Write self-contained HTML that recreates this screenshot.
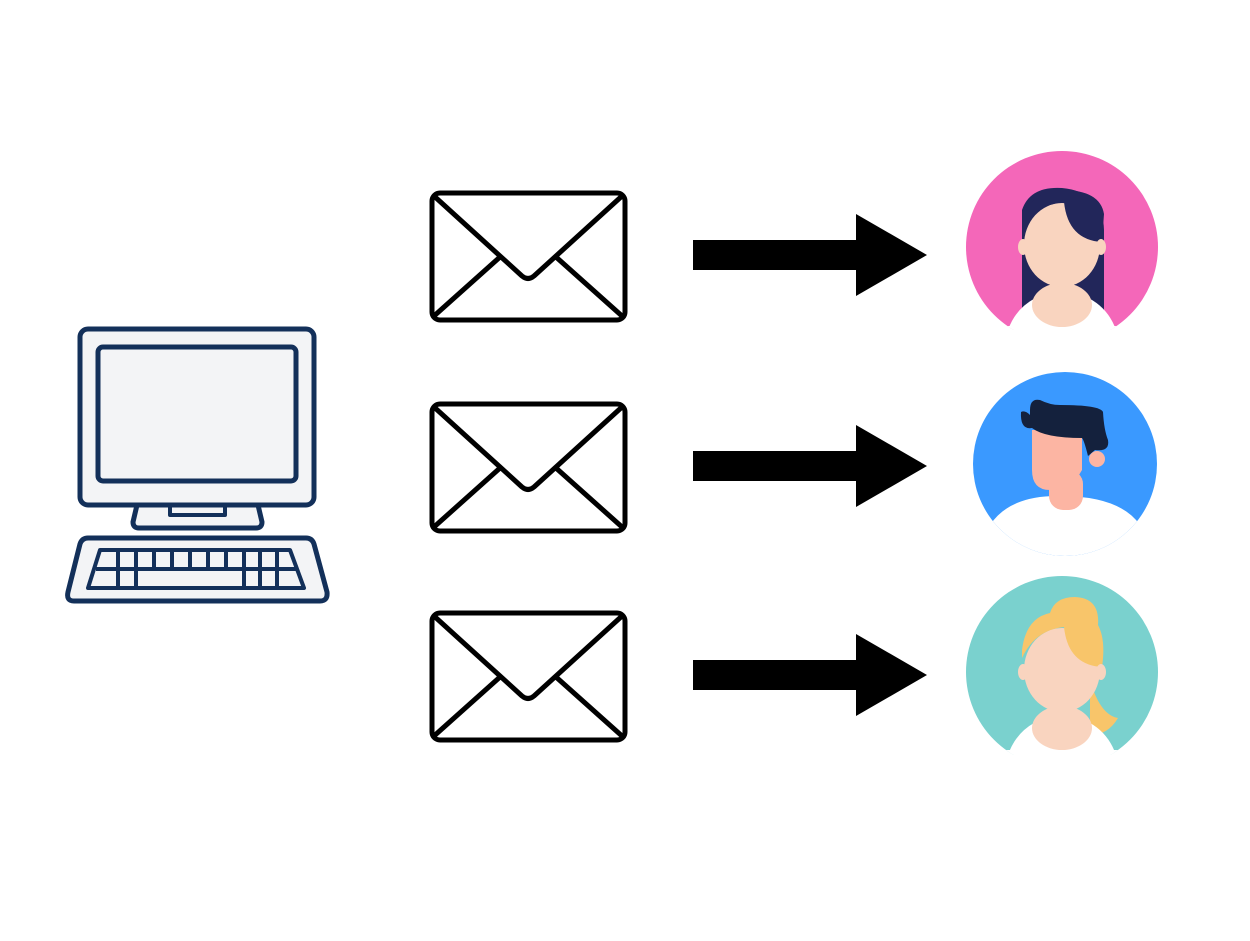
<!DOCTYPE html>
<html><head><style>html,body{margin:0;padding:0;background:#fff}</style></head>
<body>
<svg width="1250" height="936" viewBox="0 0 1250 936" xmlns="http://www.w3.org/2000/svg">
<defs>
<clipPath id="c1"><circle cx="1062" cy="247" r="96"/></clipPath>
<clipPath id="c2"><circle cx="1065" cy="464" r="92"/></clipPath>
<clipPath id="c3"><circle cx="1062" cy="672" r="96"/></clipPath>
</defs>
<!-- computer -->
<g stroke="#13305a" stroke-width="5" fill="#f3f4f6" stroke-linejoin="round">
<rect x="80" y="329" width="234" height="176" rx="8"/>
<rect x="98" y="347" width="198" height="134" rx="5"/>
<path d="M137 505 L258 505 L262 522 Q262 528 256 528 L139 528 Q133 528 133 522 Z"/>
<rect x="170" y="505" width="55" height="10" fill="none" stroke-width="4"/>
<path d="M88 538 L306 538 Q312 538 314 544 L327 592 Q328 601 320 601 L74 601 Q66 601 68 592 L80 544 Q82 538 88 538 Z"/>
<path d="M100 550 L290 550 L304 588 L88 588 Z" stroke-width="4"/>
</g>
<g stroke="#13305a" stroke-width="4">
<line x1="96" y1="569" x2="296" y2="569"/>
<line x1="118" y1="550" x2="118" y2="588"/><line x1="136" y1="550" x2="136" y2="588"/>
<line x1="154" y1="550" x2="154" y2="569"/><line x1="172" y1="550" x2="172" y2="569"/>
<line x1="190" y1="550" x2="190" y2="569"/><line x1="208" y1="550" x2="208" y2="569"/>
<line x1="226" y1="550" x2="226" y2="569"/><line x1="244" y1="550" x2="244" y2="588"/>
<line x1="260" y1="550" x2="260" y2="588"/><line x1="277" y1="550" x2="277" y2="588"/>
</g>
<!-- envelopes -->
<g fill="none" stroke="#000" stroke-width="5" stroke-linejoin="round">
<g id="env">
<rect x="432" y="193" width="193" height="127" rx="8"/>
<path d="M434 196 L522 276 Q528 281 534 276 L622 196"/>
<path d="M434 316 L500 257 M622 316 L556 257"/>
</g>
<use href="#env" y="211"/>
<use href="#env" y="420"/>
</g>
<!-- arrows -->
<g fill="#000">
<path id="arr" d="M693 240 L856 240 L856 214 L927 255 L856 296 L856 270 L693 270 Z"/>
<use href="#arr" y="211"/>
<use href="#arr" y="420"/>
</g>
<!-- avatar 1 -->
<g clip-path="url(#c1)">
<rect x="960" y="140" width="210" height="190" fill="#f467b9"/>
<rect x="960" y="326" width="210" height="20" fill="#fff"/>
<path d="M1022 210 Q1030 186 1062 188 Q1103 192 1104 230 L1104 310 L1022 310 Z" fill="#22265a"/>
<path d="M1008 330 Q1020 296 1062 290 Q1104 296 1116 330 Z" fill="#fff"/>
<ellipse cx="1062" cy="305" rx="30" ry="22" fill="#f9d4bf"/>
<rect x="1050" y="270" width="24" height="25" fill="#f9d4bf"/>
<ellipse cx="1062" cy="245" rx="38" ry="42" fill="#f9d4bf"/>
<path d="M1022 230 Q1035 205 1064 202 Q1068 240 1102 242 L1104 214 Q1100 190 1062 190 Q1026 192 1022 225 Z" fill="#22265a"/>
<ellipse cx="1023" cy="247" rx="5" ry="8" fill="#f9d4bf"/>
<ellipse cx="1101" cy="247" rx="5" ry="8" fill="#f9d4bf"/>
</g>
<!-- avatar 2 -->
<g clip-path="url(#c2)">
<rect x="960" y="360" width="210" height="210" fill="#3a99ff"/>
<path d="M990 525 Q1010 495 1060 496 Q1120 496 1140 525 L1140 570 L990 570 Z" fill="#fff"/>
<rect x="1049" y="470" width="34" height="40" rx="14" fill="#fcb5a3"/>
<path d="M1032 430 L1082 430 L1082 470 Q1070 492 1050 490 Q1032 490 1032 470 Z" fill="#fcb5a3"/>
<path d="M1030 410 Q1030 398 1040 400 Q1050 405 1060 405 Q1100 405 1103 412 Q1104 430 1108 440 Q1110 452 1095 450 L1088 456 Q1084 440 1082 438 Q1045 438 1032 428 Q1020 430 1021 412 Q1025 410 1030 415 Z" fill="#14213d"/>
<circle cx="1097" cy="459" r="8" fill="#fcb5a3"/>
</g>
<!-- avatar 3 -->
<g clip-path="url(#c3)">
<rect x="960" y="570" width="210" height="185" fill="#7ad1ce"/>
<rect x="960" y="750" width="210" height="20" fill="#fff"/>
<path d="M1090 680 Q1100 715 1118 718 Q1108 735 1090 735 Z" fill="#f8c56a"/>
<path d="M1008 755 Q1020 720 1062 714 Q1104 720 1116 755 Z" fill="#fff"/>
<ellipse cx="1062" cy="728" rx="30" ry="22" fill="#f9d4bf"/>
<rect x="1050" y="695" width="24" height="25" fill="#f9d4bf"/>
<ellipse cx="1062" cy="670" rx="38" ry="42" fill="#f9d4bf"/>
<path d="M1022 658 Q1035 630 1064 627 Q1068 665 1102 667 Q1106 640 1098 625 Q1100 598 1075 597 Q1055 597 1050 613 Q1026 618 1022 650 Z" fill="#f8c56a"/>
<ellipse cx="1023" cy="672" rx="5" ry="8" fill="#f9d4bf"/>
<ellipse cx="1101" cy="672" rx="5" ry="8" fill="#f9d4bf"/>
</g>
</svg>
</body></html>
